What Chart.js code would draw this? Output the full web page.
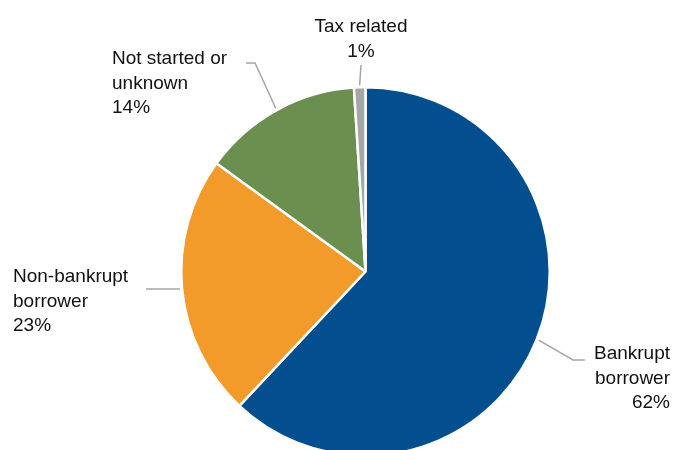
<!DOCTYPE html>
<html>
<head>
<meta charset="utf-8">
<script src="https://cdn.jsdelivr.net/npm/chart.js@4"></script>
<style>
  html, body { margin: 0; padding: 0; background: #fff; overflow: hidden; }
  #wrap { position: absolute; left: 0; top: 0; width: 680px; height: 470px; }
</style>
</head>
<body>
<div id="wrap"><canvas id="grafico"></canvas></div>
<script>
// Dados
const categorias = ['Bankrupt borrower', 'Non-bankrupt borrower', 'Not started or unknown', 'Tax related'];
const valores = [62, 23, 14, 1];
const rotulos = [
  ['Bankrupt', 'borrower', '62%'],
  ['Non-bankrupt', 'borrower', '23%'],
  ['Not started or', 'unknown', '14%'],
  ['Tax related', '1%']
];
const cores = ['#024E8F', '#F29A2A', '#6B8F4E', '#A6A6A6'];

// posicao dos rotulos e linhas guia (pixels)
const layoutRotulos = [
  { x: 670, y: 359, align: 'right', guia: [[573, 360], [585, 360]] },
  { x: 13, y: 282, align: 'left', guia: [[146, 289]] },
  { x: 112, y: 64, align: 'left', guia: [[255, 63], [246, 63]] },
  { x: 361, y: 32, align: 'center', guia: [[361, 65]] }
];

const pluginRotulos = {
  id: 'rotulos',
  afterDatasetsDraw(chart) {
    const ctx = chart.ctx;
    const meta = chart.getDatasetMeta(0);
    ctx.save();
    meta.data.forEach((arc, i) => {
      const p = arc.getProps(['x', 'y', 'startAngle', 'endAngle', 'outerRadius'], true);
      const meio = (p.startAngle + p.endAngle) / 2;
      const r = p.outerRadius + 2;
      const lay = layoutRotulos[i];
      ctx.beginPath();
      ctx.moveTo(p.x + Math.cos(meio) * r, p.y + Math.sin(meio) * r);
      lay.guia.forEach(pt => ctx.lineTo(pt[0], pt[1]));
      ctx.strokeStyle = '#A6A6A6';
      ctx.lineWidth = 1.5;
      ctx.stroke();

      ctx.fillStyle = '#111';
      ctx.font = '19px "Liberation Sans", Arial, sans-serif';
      ctx.textAlign = lay.align;
      ctx.textBaseline = 'alphabetic';
      rotulos[i].forEach((linha, k) => {
        ctx.fillText(linha, lay.x, lay.y + k * 24.5);
      });
    });
    ctx.restore();
  }
};

const ctx = document.getElementById('grafico').getContext('2d');
const chart = new Chart(ctx, {
  type: 'pie',
  data: {
    labels: categorias,
    datasets: [{
      data: valores,
      backgroundColor: cores,
      borderColor: '#ffffff',
      borderWidth: 2.5
    }]
  },
  options: {
    responsive: true,
    maintainAspectRatio: false,
    animation: false,
    layout: { padding: { top: 86, bottom: 13, left: 180, right: 129 } },
    plugins: {
      legend: { display: false },
      tooltip: { enabled: false }
    }
  },
  plugins: [pluginRotulos]
});
</script>
</body>
</html>
